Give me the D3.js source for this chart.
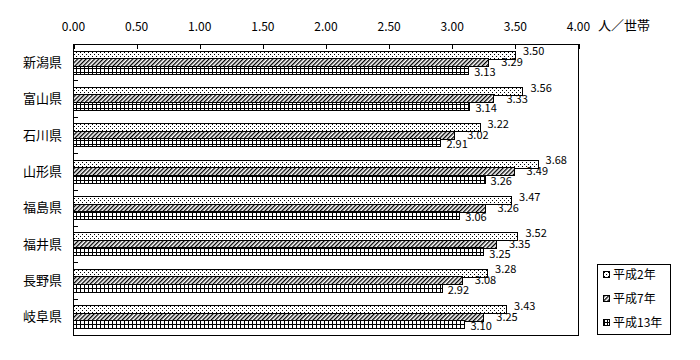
<!DOCTYPE html>
<html><head><meta charset="utf-8">
<script src="https://cdn.jsdelivr.net/npm/d3@7"></script>
<style>body{margin:0;background:#fff}svg{display:block}text{font-family:"Noto Sans CJK JP","DejaVu Sans",sans-serif;fill:#000}</style>
</head><body><svg id="c" width="700" height="360"></svg>
<script>
const categories = ["新潟県","富山県","石川県","山形県","福島県","福井県","長野県","岐阜県"];
const seriesNames = ["平成2年","平成7年","平成13年"];
const h2 = [3.50,3.56,3.22,3.68,3.47,3.52,3.28,3.43];
const h7 = [3.29,3.33,3.02,3.49,3.26,3.35,3.08,3.25];
const h13 = [3.13,3.14,2.91,3.26,3.06,3.25,2.92,3.10];
const tickValues = [0,0.5,1,1.5,2,2.5,3,3.5,4];
const unitLabel = "人／世帯";

const series = [h2,h7,h13];
const svg = d3.select("#c");
const L=73,R=578,T=44,B=335;
const x = d3.scaleLinear().domain([0,4]).range([L,R]);
const y = d3.scaleBand().domain(categories).range([T,B]).padding(0);
const inner = d3.scaleBand().domain([0,1,2]).range([6.5,29]).padding(0);

const defs = svg.append("defs");
const p1 = defs.append("pattern").attr("id","pDot").attr("patternUnits","userSpaceOnUse").attr("width",4).attr("height",4);
p1.append("rect").attr("width",4).attr("height",4).attr("fill","#fff");
p1.append("rect").attr("x",0).attr("y",0).attr("width",1).attr("height",1).attr("fill","#000");
p1.append("rect").attr("x",2).attr("y",2).attr("width",1).attr("height",1).attr("fill","#000");
const p2 = defs.append("pattern").attr("id","pHatch").attr("patternUnits","userSpaceOnUse").attr("width",3).attr("height",3).attr("patternTransform","rotate(45)");
p2.append("rect").attr("width",3).attr("height",3).attr("fill","#fff");
p2.append("rect").attr("x",0).attr("y",0).attr("width",1.3).attr("height",3).attr("fill","#000");
const p3 = defs.append("pattern").attr("id","pGrid").attr("patternUnits","userSpaceOnUse").attr("width",4).attr("height",4);
p3.append("rect").attr("width",4).attr("height",4).attr("fill","#fff");
p3.append("rect").attr("x",0).attr("y",0).attr("width",1).attr("height",4).attr("fill","#000");
p3.append("rect").attr("x",0).attr("y",0).attr("width",4).attr("height",1).attr("fill","#000");
const p3b = defs.append("pattern").attr("id","pGridL").attr("patternUnits","userSpaceOnUse").attr("width",3).attr("height",3).attr("x",1).attr("y",1);
p3b.append("rect").attr("width",3).attr("height",3).attr("fill","#fff");
p3b.append("rect").attr("x",0).attr("y",0).attr("width",1).attr("height",3).attr("fill","#000");
p3b.append("rect").attr("x",0).attr("y",0).attr("width",3).attr("height",1).attr("fill","#000");
const fills = ["url(#pDot)","url(#pHatch)","url(#pGrid)"];
const legendFills = ["url(#pDot)","url(#pHatch)","url(#pGridL)"];

svg.append("rect").attr("x",L+0.5).attr("y",T+0.5).attr("width",R-L).attr("height",B-T)
  .attr("fill","none").attr("stroke","#000").attr("shape-rendering","crispEdges");

const xAxis = d3.axisTop(x).tickValues(tickValues).tickSize(-5).tickPadding(13).tickFormat(d3.format(".2f"));
const gx = svg.append("g").attr("transform",`translate(0,${T})`).call(xAxis);
gx.select(".domain").remove();
gx.selectAll("line").attr("stroke","#000").attr("shape-rendering","crispEdges").attr("transform","translate(0.5,0)");
gx.selectAll("text").attr("font-size",12).attr("font-family","\"Noto Sans CJK JP\",sans-serif");

svg.append("text").attr("x",598).attr("y",30).attr("font-size",13).text(unitLabel);

const boundaries = categories.slice(1).map(c=>y(c));
svg.selectAll(".lt").data(boundaries).join("line")
  .attr("x1",L).attr("x2",L+5).attr("y1",d=>Math.round(d)+0.5).attr("y2",d=>Math.round(d)+0.5)
  .attr("stroke","#000").attr("shape-rendering","crispEdges");

svg.selectAll(".cl").data(categories).join("text")
  .attr("x",62).attr("y",d=>y(d)+y.bandwidth()/2).attr("dy","0.36em")
  .attr("text-anchor","end").attr("font-size",13).text(d=>d);

const lblDx=[8,13,6], lblDy=[-3,0.5,2.5];
series.forEach((vals,si)=>{
  const g = svg.append("g");
  g.selectAll("rect").data(categories).join("rect")
    .attr("x",L+0.5).attr("y",(c)=>Math.round(y(c)+inner(si))+0.5)
    .attr("width",(c,i)=>x(vals[i])-L).attr("height",Math.round(inner.bandwidth()))
    .attr("fill",fills[si]).attr("stroke","#000").attr("shape-rendering","crispEdges");
  g.selectAll("text").data(categories).join("text")
    .attr("x",(c,i)=>x(vals[i])+lblDx[si])
    .attr("y",(c)=>y(c)+inner(si)+inner.bandwidth()/2+lblDy[si]).attr("dy","0.36em")
    .attr("font-size",11).text((c,i)=>vals[i].toFixed(2));
});

const lg = svg.append("g");
lg.append("rect").attr("x",597.5).attr("y",264.5).attr("width",73).attr("height",70)
  .attr("fill","#fff").attr("stroke","#000").attr("shape-rendering","crispEdges");
seriesNames.forEach((n,i)=>{
  const cy = 275+i*24;
  lg.append("rect").attr("x",603.5).attr("y",cy-3.5).attr("width",6).attr("height",6)
    .attr("fill",legendFills[i]).attr("stroke","#000").attr("shape-rendering","crispEdges");
  lg.append("text").attr("x",613).attr("y",cy).attr("dy","0.36em").attr("font-size",12).text(n);
});
</script></body></html>
